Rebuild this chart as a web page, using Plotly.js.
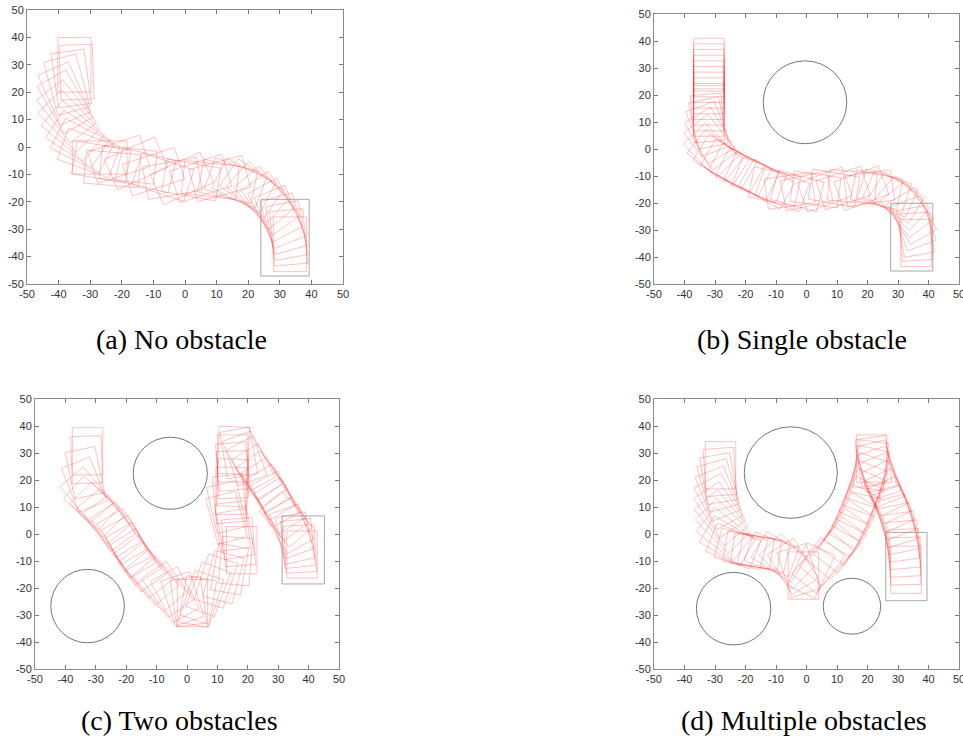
<!DOCTYPE html>
<html><head><meta charset="utf-8">
<script src="https://cdn.plot.ly/plotly-3.0.1.min.js"></script>
<style>body{margin:0;background:#fff}</style>
</head><body>
<div id="chart" style="width:963px;height:742px"></div>
<script>
// ---------- tick labels ----------
const tickVals = [-50,-40,-30,-20,-10,0,10,20,30,40,50];

// ---------- captions ----------
const captions = ['(a) No obstacle','(b) Single obstacle','(c) Two obstacles','(d) Multiple obstacles'];

// ---------- vehicle poses (centre x, centre y, heading deg) ----------
// (a) no obstacle
const aX = [-35.0,-34.3,-36.0,-37.4,-38.2,-38.0,-37.5,-36.8,-35.5,-34.0,-32.5,-30.5,-27.0,-26.5,-23.0,-21.0,-18.0,-15.5,-12.5,-10.0,-7.0,-4.0,-1.0,2.0,5.0,8.0,11.0,13.5,16.0,18.5,21.0,23.0,25.0,27.0,28.5,30.0,31.2,32.2,32.8,33.2];
const aY = [30.0,27.3,25.0,22.8,19.5,16.5,13.0,9.5,6.0,3.0,0.5,-2.2,-3.8,-5.5,-8.0,-4.5,-6.5,-6.0,-8.5,-9.0,-11.0,-11.5,-11.5,-12.0,-11.5,-12.0,-11.5,-12.5,-13.0,-14.0,-15.0,-16.5,-18.5,-20.5,-23.0,-25.5,-28.0,-30.5,-33.0,-35.5];
const aH = [-90,-88,-82,-75,-66,-60,-52,-46,-40,-33,-27,-20,0,-10,-5,18,-6,24,-14,18,-18,10,24,-10,18,-6,15,-12,-20,-27,-35,-42,-50,-55,-62,-68,-74,-80,-85,-90];

// (b) single obstacle
const bX = [-32,-32,-32,-32,-32,-32,-32,-32,-32,-32,-32.4,-32.2,-32.2,-31.8,-31.5,-31.4,-30,-28,-25.5,-23,-20.5,-18,-15.5,-13,-10.5,-8,-5.5,-3,0,3,6,9,12,15,18,20.5,23,25.5,27.5,29.5,31.5,33,34.5,35.2,35.7,35.9,35.9];
const bY = [32.25,30.2,28.1,26,23.9,21.8,19.7,17.6,15.5,13.5,11.5,9.6,7.5,5,2.5,-0.5,-2.5,-4,-5.5,-7,-8.5,-10,-11.5,-13,-14,-15,-15.5,-15.5,-15.5,-15,-15,-14.5,-14.5,-14,-14.5,-14.5,-15,-15.5,-16.5,-18,-20,-22.5,-25,-27.5,-30.5,-32.5,-34.8];
const bH = [-90,-90,-90,-90,-90,-90,-90,-90,-90,-90,-85,-78,-70,-60,-52,-45,-38,-32,-30,-28,-27,-25,-22,-30,-12,-20,8,-15,12,-8,20,-10,18,-5,20,8,-12,-18,-25,-32,-42,-52,-60,-70,-80,-86,-90];

// (c) two obstacles
const cX = [-32.7,-33.0,-33.6,-33.8,-33.0,-31.5,-29.5,-27.5,-25.5,-23.5,-21.5,-20.0,-18.5,-17.0,-15.5,-13.5,-11.5,-9.0,-6.5,-4.0,-1.5,0.5,1.8,3.5,5.0,7.0,9.5,12.0,14.0,16.0,18.0,17.0,16.0,15.0,13.0,13.0,14.0,14.5,15.0,15.0,15.0,15.0,15.3,17.0,19.0,21.0,23.0,24.5,26.0,27.5,29.0,30.5,31.5,32.5,33.5,34.5,35.5,36.5,37.2,37.85];
const cY = [30.65,27.5,22.7,18.3,14.5,11.5,9.0,6.5,4.0,1.5,-1.0,-3.5,-6.0,-8.5,-11.0,-13.5,-16.0,-18.5,-20.5,-22.5,-24.0,-25.0,-25.6,-25.0,-23.5,-20.5,-17.5,-16.0,-13.0,-10.0,-6.0,-3.0,0.0,3.0,6.0,10.0,13.0,16.0,19.0,22.0,25.0,28.0,31.0,30.0,28.0,26.0,23.0,20.5,18.0,15.5,13.0,10.5,8.0,5.5,3.0,1.0,-1.5,-3.5,-5.5,-7.6];
const cH = [-90,-88,-78,-68,-50,-42,-45,-50,-55,-58,-60,-62,-60,-58,-55,-52,-50,-50,-55,-62,-72,-82,-90,-100,-108,70,72,75,80,85,90,95,100,97,105,103,95,90,88,92,95,90,88,100,110,118,122,125,122,120,118,122,125,130,120,110,102,96,93,90];

// (d) multiple obstacles
const dX = [-28.2,-28.4,-28.8,-29.0,-29.0,-28.8,-28.5,-28.0,-27.5,-27.0,-26.0,-24.0,-21.5,-19.0,-16.5,-14.0,-11.5,-9.0,-6.5,-4.5,-2.5,-1.0,1.5,4.0,6.5,9.0,11.0,12.5,14.0,15.3,16.4,17.4,18.3,19.1,19.9,20.6,21.1,21.35,22.0,22.8,23.7,24.6,25.6,26.6,27.6,28.6,29.5,30.4,31.1,31.7,32.1,32.4,32.6];
const dY = [25.45,23.0,20.5,18.0,15.0,12.0,9.0,6.0,3.0,0.0,-2.5,-4.5,-5.5,-6.0,-6.5,-7.0,-7.5,-8.5,-10.0,-12.0,-13.5,-15.4,-13.5,-11.5,-9.0,-6.5,-4.0,-1.0,2.0,5.0,8.0,11.0,14.0,17.0,20.0,23.0,25.5,27.95,27.0,25.0,22.5,20.0,17.0,14.0,11.0,8.0,5.0,2.0,-1.0,-4.0,-7.0,-10.0,-13.25];
const dH = [-90,-86,-80,-74,-68,-62,-56,-50,-45,-38,-30,-22,-15,-10,-8,-12,-20,-32,-45,-58,-72,-90,65,52,48,50,53,56,58,60,62,64,66,69,72,77,83,90,98,104,108,112,115,116,114,110,106,102,98,95,93,91,90];

// ---------- goal regions [x0, x1, y0, y1] per panel ----------
const goalX0 = [24.0, 27.6, 31.3, 26.0];
const goalX1 = [39.3, 41.4, 45.2, 39.5];
const goalY0 = [-47.1, -45.2, -18.5, -24.7];
const goalY1 = [-19.1, -20.1, 6.7, 0.6];

// ---------- obstacles (panel index, centre, radii) ----------
const obsPanel = [1, 2, 2, 3, 3, 3];
const obsCx = [-0.5, -5.5, -32.7, -5.15, -23.9, 14.9];
const obsCy = [17.3, 22.5, -26.7, 22.75, -27.65, -26.75];
const obsRx = [13.7, 12.2, 12.1, 15.25, 12.2, 9.4];
const obsRy = [15.35, 13.35, 13.6, 16.95, 13.45, 10.35];

// ---------- geometry / style settings ----------
const VEH = [ {L:17.3, W:10.5, k:1.153}, {L:15.5, W:10, k:1.13}, {L:15.5, W:10, k:1.126}, {L:15.5, W:10, k:1.13} ];
const W = 963, H = 742;
const boxes = [ [27,343,10,284], [654,959,14,284], [35,339,399,669], [654,959,399,669] ];
const capPos = [ [181,339], [802,339], [179,720], [804,720] ];

function rectPath(cx, cy, th, v) {
  const xs = [], ys = [];
  const hl = v.L/2, hw = v.W/2;
  const loc = [[hl,hw],[hl,-hw],[-hl,-hw],[-hl,hw],[hl,hw]];
  for (let i = 0; i < cx.length; i++) {
    const t = th[i]*Math.PI/180, c = Math.cos(t), s = Math.sin(t);
    for (const [a,b] of loc) {
      xs.push(cx[i] + a*c - b*s);
      ys.push(cy[i] + (a*s + b*c)*v.k);
    }
    xs.push(null); ys.push(null);
  }
  return {xs, ys};
}

const poses = [[aX,aY,aH],[bX,bY,bH],[cX,cY,cH],[dX,dY,dH]];
const traces = [];
const layout = {
  width: W, height: H, margin:{l:0,r:0,t:0,b:0},
  paper_bgcolor:'#fff', plot_bgcolor:'#fff', showlegend:false,
  shapes: [], annotations: []
};
for (let p = 0; p < 4; p++) {
  const xa = p===0 ? 'x' : 'x'+(p+1);
  const ya = p===0 ? 'y' : 'y'+(p+1);
  const r = rectPath(poses[p][0], poses[p][1], poses[p][2], VEH[p]);
  traces.push({type:'scatter', mode:'lines', x:r.xs, y:r.ys, xaxis:xa, yaxis:ya,
    line:{color:'rgba(255,30,30,0.3)', width:0.9}, hoverinfo:'skip'});
  traces.push({type:'scatter', mode:'lines',
    x:[goalX0[p],goalX1[p],goalX1[p],goalX0[p],goalX0[p]],
    y:[goalY0[p],goalY0[p],goalY1[p],goalY1[p],goalY0[p]],
    xaxis:xa, yaxis:ya, line:{color:'rgba(140,140,140,0.75)', width:1}, hoverinfo:'skip'});
  const b = boxes[p];
  const axCommon = {range:[-50,50], tickmode:'array', tickvals:tickVals, ticktext:tickVals.map(String),
    ticks:'inside', ticklen:4, tickwidth:1, tickcolor:'#777', showline:true, linecolor:'#8a8a8a', linewidth:1,
    mirror:'ticks', showgrid:false, zeroline:false, fixedrange:true, ticklabeloverflow:'allow',
    tickfont:{family:'Liberation Sans, Arial, sans-serif', size:11, color:'#333'}};
  layout['xaxis'+(p===0?'':p+1)] = Object.assign({}, axCommon, {domain:[b[0]/W, b[1]/W], anchor:ya});
  layout['yaxis'+(p===0?'':p+1)] = Object.assign({}, axCommon, {domain:[1-b[3]/H, 1-b[2]/H], anchor:xa});
  layout.annotations.push({text:captions[p], xref:'paper', yref:'paper', x:capPos[p][0]/W, y:1-capPos[p][1]/H,
    xanchor:'center', yanchor:'middle', showarrow:false,
    font:{family:'Liberation Serif, Times New Roman, serif', size:28, color:'#000'}});
}
for (let i = 0; i < obsPanel.length; i++) {
  const p = obsPanel[i];
  layout.shapes.push({type:'circle', xref:'x'+(p+1), yref:'y'+(p+1),
    x0:obsCx[i]-obsRx[i], x1:obsCx[i]+obsRx[i], y0:obsCy[i]-obsRy[i], y1:obsCy[i]+obsRy[i],
    line:{color:'#666', width:0.9}});
}
Plotly.newPlot('chart', traces, layout, {displayModeBar:false, staticPlot:true});
</script>
</body></html>
